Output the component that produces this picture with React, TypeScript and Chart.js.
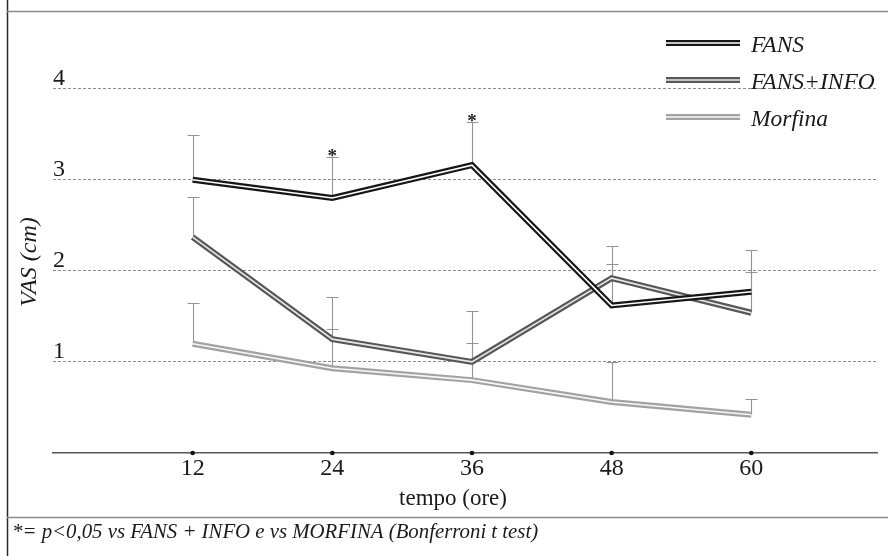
import { useEffect, useRef } from 'react';
import { Chart, registerables } from 'chart.js';

Chart.register(...registerables);

// ---- data ----
const hours = [12, 24, 36, 48, 60];
const xTickValues = [12, 24, 36, 48, 60];
const yTickValues = [0, 1, 2, 3, 4];
const seriesNames = ['FANS', 'FANS+INFO', 'Morfina'];
const fans = [3.0, 2.8, 3.16, 1.62, 1.77];
const fansErrTop = [3.49, 3.25, 3.63, 2.07, 2.23];
const fansInfo = [2.37, 1.25, 1.0, 1.92, 1.54];
const fansInfoErrTop = [2.81, 1.71, 1.56, 2.27, 1.99];
const morfina = [1.2, 0.93, 0.8, 0.56, 0.42];
const morfinaErrTop = [1.65, 1.36, 1.21, 1.0, 0.59];
const fansSignificant = [false, true, true, false, false];
const xTitle = 'tempo (ore)';
const yTitle = 'VAS (cm)';
const footnote = '*= p<0,05 vs FANS + INFO e vs MORFINA (Bonferroni t test)';

const seriesValues = [fans, fansInfo, morfina];
const seriesErrTop = [fansErrTop, fansInfoErrTop, morfinaErrTop];

// ---- styles ----
const SERIF = '"Liberation Serif", "Times New Roman", serif';
const outerColors = ['#161616', '#575757', '#a2a2a2'];
const innerColors = ['#ffffff', '#e8e8e8', '#f8f8f8'];
const OUTER_W = 6;
const INNER_W = 1.6;

const decorPlugin = {
  id: 'decor',
  beforeDraw(chart: any) {
    const { ctx, width, height } = chart;
    ctx.save();
    ctx.fillStyle = '#ffffff';
    ctx.fillRect(0, 0, width, height);
    ctx.strokeStyle = '#2a2a2a';
    ctx.lineWidth = 1.5;
    ctx.beginPath();
    ctx.moveTo(7.5, 0);
    ctx.lineTo(7.5, height);
    ctx.stroke();
    ctx.strokeStyle = '#8a8a8a';
    ctx.lineWidth = 1.3;
    ctx.beginPath();
    ctx.moveTo(7, 11.5);
    ctx.lineTo(width, 11.5);
    ctx.moveTo(7, 517.5);
    ctx.lineTo(width, 517.5);
    ctx.stroke();
    ctx.restore();
  },
  beforeDatasetsDraw(chart: any) {
    const { ctx } = chart;
    const xs = chart.scales.x;
    const ys = chart.scales.y;
    ctx.save();
    ctx.strokeStyle = '#939393';
    ctx.lineWidth = 1.1;
    seriesValues.forEach((vals, s) => {
      vals.forEach((v, i) => {
        const x = Math.round(xs.getPixelForValue(hours[i])) + 0.5;
        const y1 = ys.getPixelForValue(v);
        const y2 = Math.round(ys.getPixelForValue(seriesErrTop[s][i])) + 0.5;
        ctx.beginPath();
        ctx.moveTo(x, y1);
        ctx.lineTo(x, y2);
        ctx.moveTo(x - 6, y2);
        ctx.lineTo(x + 6, y2);
        ctx.stroke();
      });
    });
    ctx.restore();
  },
  afterDatasetsDraw(chart: any) {
    const { ctx } = chart;
    const xs = chart.scales.x;
    const ys = chart.scales.y;
    ctx.save();
    // tick dots on x axis
    ctx.fillStyle = '#111';
    xTickValues.forEach((v) => {
      const x = xs.getPixelForValue(v);
      ctx.beginPath();
      ctx.arc(x, ys.getPixelForValue(0), 2.3, 0, Math.PI * 2);
      ctx.fill();
    });
    // significance stars
    ctx.font = `bold 19px ${SERIF}`;
    ctx.textAlign = 'center';
    ctx.textBaseline = 'alphabetic';
    ctx.fillStyle = '#222';
    fansSignificant.forEach((sig, i) => {
      if (!sig) return;
      const x = xs.getPixelForValue(hours[i]);
      const y = ys.getPixelForValue(fansErrTop[i]);
      ctx.fillText('*', x, y + 5);
    });
    // legend
    const legendY = [43, 80, 117];
    seriesNames.forEach((name, s) => {
      const y = legendY[s];
      ctx.lineCap = 'butt';
      ctx.strokeStyle = outerColors[s];
      ctx.lineWidth = OUTER_W;
      ctx.beginPath();
      ctx.moveTo(666, y);
      ctx.lineTo(740, y);
      ctx.stroke();
      ctx.strokeStyle = innerColors[s];
      ctx.lineWidth = INNER_W;
      ctx.beginPath();
      ctx.moveTo(666, y);
      ctx.lineTo(740, y);
      ctx.stroke();
      ctx.fillStyle = '#1a1a1a';
      ctx.font = `italic 23.5px ${SERIF}`;
      ctx.textAlign = 'left';
      ctx.textBaseline = 'alphabetic';
      ctx.fillText(name, 751, y + 9);
    });
    // axis titles
    ctx.fillStyle = '#1a1a1a';
    ctx.font = `23px ${SERIF}`;
    ctx.textAlign = 'center';
    ctx.textBaseline = 'middle';
    ctx.fillText(xTitle, 453, 499);
    ctx.save();
    ctx.translate(30, 262);
    ctx.rotate(-Math.PI / 2);
    ctx.font = `italic 24px ${SERIF}`;
    ctx.fillText(yTitle, 0, 0);
    ctx.restore();
    // footnote
    ctx.font = `italic 20.8px ${SERIF}`;
    ctx.textAlign = 'left';
    ctx.textBaseline = 'alphabetic';
    ctx.fillText(footnote, 12, 538);
    ctx.restore();
  },
};

export default function App() {
  const ref = useRef<HTMLCanvasElement>(null);
  useEffect(() => {
    document.body.style.margin = '0';
    const datasets: any[] = [];
    seriesNames.forEach((name, s) => {
      const pts = hours.map((h, i) => ({ x: h, y: seriesValues[s][i] }));
      datasets.push({
        label: name,
        data: pts,
        borderColor: outerColors[s],
        borderWidth: OUTER_W,
        pointRadius: 0,
        borderJoinStyle: 'miter',
        tension: 0,
        fill: false,
        order: 2 + s * 2,
      });
      datasets.push({
        label: name + ' (inner)',
        data: pts,
        borderColor: innerColors[s],
        borderWidth: INNER_W,
        pointRadius: 0,
        borderJoinStyle: 'miter',
        tension: 0,
        fill: false,
        order: 1 + s * 2,
      });
    });
    const chart = new Chart(ref.current as HTMLCanvasElement, {
      type: 'line',
      data: { datasets },
      options: {
        animation: false,
        responsive: false,
        maintainAspectRatio: false,
        layout: { padding: { left: 0, right: 11, top: 34, bottom: 0 } },
        plugins: { legend: { display: false }, tooltip: { enabled: false } },
        scales: {
          x: {
            type: 'linear',
            min: 0,
            max: 70.8,
            afterBuildTicks: (axis: any) => {
              axis.ticks = xTickValues.map((v) => ({ value: v }));
            },
            afterFit: (axis: any) => {
              axis.height = 103;
            },
            ticks: {
              font: { family: SERIF, size: 24 },
              color: '#1a1a1a',
              padding: 1,
              autoSkip: false,
              maxRotation: 0,
            },
            grid: { display: false, drawTicks: false },
            border: { display: true, color: '#555', width: 1.5 },
          },
          y: {
            type: 'linear',
            min: 0,
            max: 4.6,
            afterBuildTicks: (axis: any) => {
              axis.ticks = yTickValues.map((v) => ({ value: v }));
            },
            afterFit: (axis: any) => {
              axis.width = 53;
            },
            ticks: {
              mirror: true,
              padding: 0,
              labelOffset: -10,
              font: { family: SERIF, size: 24 },
              color: '#1a1a1a',
              callback: (v: any) => (v === 0 ? '' : String(v)),
            },
            grid: {
              drawTicks: false,
              lineWidth: 1,
              color: (c: any) => (c.tick && c.tick.value === 0 ? 'rgba(0,0,0,0)' : '#8c8c8c'),
            },
            border: { display: false, dash: [3, 2] },
          },
        },
      } as any,
      plugins: [decorPlugin],
    });
    return () => chart.destroy();
  }, []);
  return (
    <div style={{ width: 888, height: 556 }}>
      <canvas ref={ref} width={888} height={556} style={{ display: 'block', width: 888, height: 556 }} />
    </div>
  );
}
